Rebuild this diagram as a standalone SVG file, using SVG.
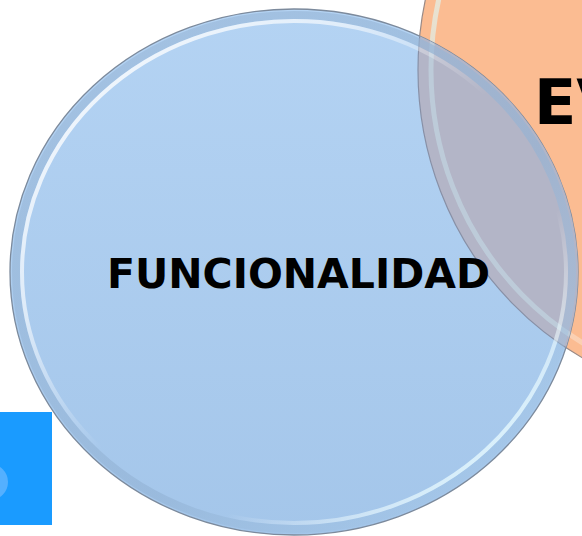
<svg xmlns="http://www.w3.org/2000/svg" width="582" height="536" viewBox="0 0 582 536">
<defs>
<style>
.lbl{font-family:"DejaVu Sans","Verdana",sans-serif;font-weight:bold;fill:#000}
</style>
<linearGradient id="gBlue" x1="0" y1="0" x2="0" y2="1">
<stop offset="0" stop-color="#B4D3F3"/>
<stop offset="1" stop-color="#A4C6EA"/>
</linearGradient>
<linearGradient id="gRimB" x1="0" y1="0" x2="1" y2="1">
<stop offset="0" stop-color="#FFFFFF" stop-opacity="0.95"/>
<stop offset="0.3" stop-color="#FFFFFF" stop-opacity="0.6"/>
<stop offset="0.5" stop-color="#FFFFFF" stop-opacity="0"/>
<stop offset="0.68" stop-color="#FFFFFF" stop-opacity="0"/>
<stop offset="0.88" stop-color="#E4FAFF" stop-opacity="0.9"/>
<stop offset="1" stop-color="#E4FAFF" stop-opacity="0.9"/>
</linearGradient>
<linearGradient id="gBand" x1="0" y1="0" x2="1" y2="1">
<stop offset="0" stop-color="#9DBBDB" stop-opacity="0.7"/>
<stop offset="0.6" stop-color="#92B2D4" stop-opacity="0.6"/>
<stop offset="1" stop-color="#A8CCEC" stop-opacity="0.3"/>
</linearGradient>
<linearGradient id="gRimO" x1="0" y1="0" x2="0" y2="1">
<stop offset="0" stop-color="#FFF6DC" stop-opacity="0.95"/>
<stop offset="0.5" stop-color="#D8F4F4" stop-opacity="0.6"/>
<stop offset="1" stop-color="#FFFFFF" stop-opacity="0.25"/>
</linearGradient>
<clipPath id="cBlue"><ellipse cx="294" cy="272" rx="284" ry="263"/></clipPath>
</defs>
<rect width="582" height="536" fill="#FFFFFF"/>
<g id="node-square">
<rect x="0" y="412" width="52" height="113" fill="#1A9BFF"/>
<circle cx="-10" cy="482" r="18" fill="#6DB9FF" opacity="0.7"/>
</g>
<g id="node-evaluacion">
<ellipse cx="740" cy="70" rx="322" ry="330" fill="#FBBC92" stroke="#9A8A86" stroke-width="1.2"/>
<ellipse cx="740" cy="70" rx="309" ry="317" fill="none" stroke="url(#gRimO)" stroke-width="5"/>
</g>
<g id="node-funcionalidad">
<ellipse cx="294" cy="272" rx="284" ry="263" fill="url(#gBlue)" stroke="#7C8A9C" stroke-width="1.3"/>
<g clip-path="url(#cBlue)">
<ellipse cx="740" cy="70" rx="322" ry="330" fill="#B3B5C7" stroke="#8890A6" stroke-width="1.2"/>
<ellipse cx="740" cy="70" rx="309" ry="317" fill="none" stroke="#C8E2EC" stroke-opacity="0.5" stroke-width="5"/>
</g>
<ellipse cx="294" cy="272" rx="278" ry="257" fill="none" stroke="url(#gBand)" stroke-width="8"/>
<ellipse cx="294" cy="272" rx="272" ry="251" fill="none" stroke="url(#gRimB)" stroke-width="4"/>
<text class="lbl" x="298.5" y="288" font-size="41" text-anchor="middle">FUNCIONALIDAD</text>
</g>
<g id="label-ev">
<text class="lbl" x="534" y="124" font-size="62">EV</text>
</g>
<g id="connectors"/>
</svg>
